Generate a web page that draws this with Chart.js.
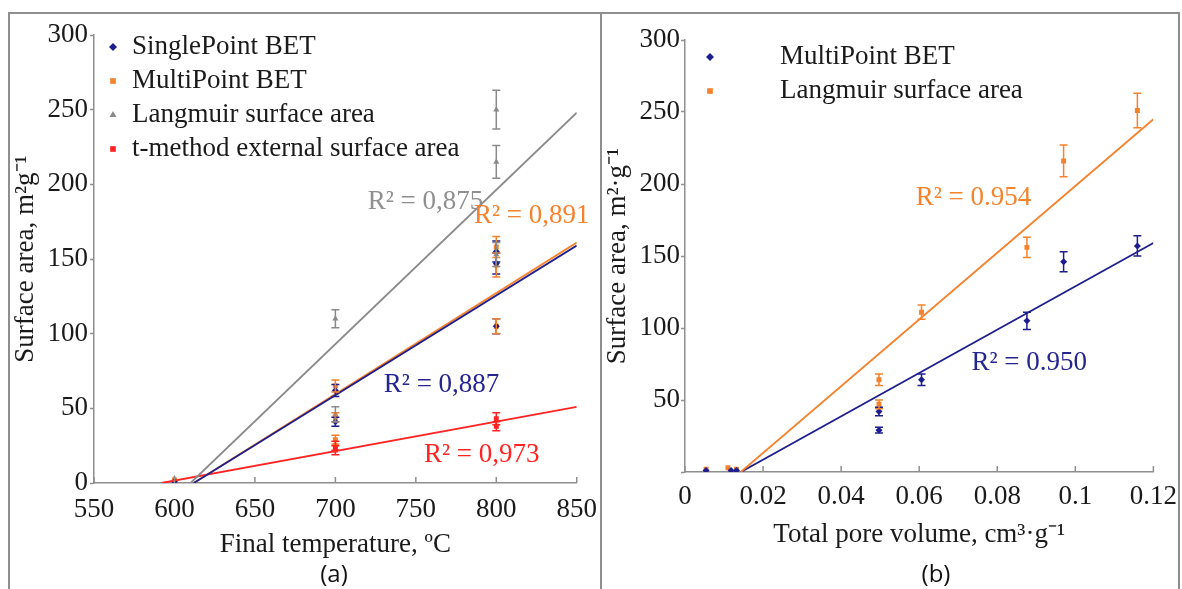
<!DOCTYPE html>
<html>
<head>
<meta charset="utf-8">
<script src="https://cdn.jsdelivr.net/npm/chart.js@4.4.1/dist/chart.umd.min.js"></script>
<style>
  html, body { margin: 0; padding: 0; background: #fff; }
  body { width: 1182px; height: 589px; position: relative; overflow: hidden; }
  .frame { position: absolute; top: 12px; height: 600px; border-top: 2px solid #8e8e8e; border-left: 2px solid #8e8e8e; box-sizing: border-box; }
  #frameA { left: 8px; width: 593px; }
  #frameB { left: 600px; width: 580px; border-right: 2px solid #8e8e8e; }
  canvas { position: absolute; }
  #chartA { left: 10px; top: 14px; }
  #chartB { left: 602px; top: 14px; }
  .tag { position: absolute; top: 556px; font-family: "Open Sans", sans-serif; font-size: 24px; color: #111; transform: translateX(-50%); }
</style>
</head>
<body>
<div class="frame" id="frameA"></div>
<div class="frame" id="frameB"></div>
<canvas id="chartA" width="590" height="575"></canvas>
<canvas id="chartB" width="576" height="575"></canvas>
<div class="tag" style="left:334px">(a)</div>
<div class="tag" style="left:936px">(b)</div>
<script>
// ---- panel (a): surface area vs final temperature ----
const singleTemp = [600, 700, 700, 800, 800, 800];
const singleArea = [1, 62, 41, 155, 147, 105];
const singleErr  = [0, 4, 3, 7, 7, 5];

const multiTemp = [600, 700, 700, 700, 800, 800, 800];
const multiArea = [2, 65, 44, 29, 158, 146, 105];
const multiErr  = [0, 4, 3, 3, 7, 8, 5];

const langTemp = [600, 700, 700, 800, 800, 800];
const langArea = [3, 110, 46, 250, 215, 153];
const langErr  = [0, 6, 5, 13, 11, 8];

const tTemp = [600, 700, 700, 800, 800];
const tArea = [1, 25, 22, 43, 38];
const tErr  = [0, 3, 3, 4, 3];

// fitted lines, ends
const langFitT = [610, 850], langFitA = [0, 248];
const multiFitT = [612, 850], multiFitA = [0, 161];
const singleFitT = [612, 850], singleFitA = [0, 159];
const tFitT = [592, 850], tFitA = [0, 51];

// ---- panel (b): surface area vs total pore volume ----
const bMultiVol  = [0.0054, 0.0118, 0.0132, 0.0497, 0.0497, 0.0606, 0.0876, 0.097, 0.1159];
const bMultiArea = [1, 1, 1, 42, 29, 64, 105, 146, 157];
const bMultiErr  = [0, 0, 0, 3, 2, 4, 6, 7, 7];

const bLangVol  = [0.0054, 0.011, 0.0132, 0.0497, 0.0497, 0.0606, 0.0876, 0.097, 0.1159];
const bLangArea = [2, 3, 2, 64, 47, 111, 156, 216, 251];
const bLangErr  = [0, 0, 0, 4, 3, 5, 7, 11, 12];

const bLangFitV = [0.0143, 0.12], bLangFitA = [0, 245];
const bMultiFitV = [0.0143, 0.12], bMultiFitA = [0, 159];

const NAVY = '#1e1e8e', ORANGE = '#f5822c', GRAY = '#8a8a8a', RED = '#ff2424';
const AXIS = '#8e8e8e', INK = '#1a1a1a';
const SERIF = '"Liberation Serif", "Times New Roman", serif';
const font27 = { family: SERIF, size: 27 };

const pts = (xs, ys) => xs.map((x, i) => ({ x, y: ys[i] }));

function marks(label, xs, ys, errs, color, style, r) {
  return {
    label, data: pts(xs, ys), errs, showLine: false,
    pointStyle: style, pointRadius: r, pointHoverRadius: r,
    backgroundColor: color, borderColor: color, borderWidth: 0, inLegend: true
  };
}
function fit(xs, ys, color) {
  return {
    data: pts(xs, ys), showLine: true, pointRadius: 0, pointHoverRadius: 0,
    borderColor: color, borderWidth: 1.8, fill: false
  };
}

const errorBars = {
  id: 'errorBars',
  afterDatasetsDraw(chart) {
    const { ctx, scales: { x, y } } = chart;
    chart.data.datasets.forEach(ds => {
      if (!ds.errs) return;
      ctx.save();
      ctx.strokeStyle = ds.borderColor;
      ctx.lineWidth = 1.5;
      ds.data.forEach((p, j) => {
        const e = ds.errs[j];
        if (!e) return;
        const px = x.getPixelForValue(p.x);
        const t = y.getPixelForValue(p.y + e), b = y.getPixelForValue(p.y - e);
        ctx.beginPath();
        ctx.moveTo(px, t); ctx.lineTo(px, b);
        ctx.moveTo(px - 4, t); ctx.lineTo(px + 4, t);
        ctx.moveTo(px - 4, b); ctx.lineTo(px + 4, b);
        ctx.stroke();
      });
      ctx.restore();
    });
  }
};

const innerLegend = {
  id: 'innerLegend',
  afterDraw(chart, args, o) {
    const { ctx, chartArea } = chart;
    const items = chart.data.datasets.filter(d => d.inLegend);
    ctx.save();
    ctx.font = `27px ${SERIF}`;
    ctx.textBaseline = 'middle';
    items.forEach((d, i) => {
      const yy = chartArea.top + o.top + i * o.step;
      ctx.fillStyle = d.backgroundColor;
      Chart.helpers.drawPoint(ctx, { pointStyle: d.pointStyle, radius: 4, borderWidth: 0 },
        chartArea.left + o.mark, yy);
      ctx.fillStyle = INK;
      ctx.fillText(d.label, chartArea.left + o.text, yy);
    });
    ctx.restore();
  }
};

const rLabels = {
  id: 'rLabels',
  afterDraw(chart, args, o) {
    const { ctx, scales: { x, y } } = chart;
    ctx.save();
    ctx.font = `27px ${SERIF}`;
    ctx.textAlign = 'center';
    ctx.textBaseline = 'middle';
    o.items.forEach(it => {
      ctx.fillStyle = it.color;
      ctx.fillText(it.text, x.getPixelForValue(it.x), y.getPixelForValue(it.y));
    });
    ctx.restore();
  }
};

// x ticks point into the plot in the original
const innerTicks = {
  id: 'innerTicks',
  afterDraw(chart) {
    const { ctx, scales: { x } } = chart;
    ctx.save();
    ctx.strokeStyle = AXIS;
    ctx.lineWidth = 1.5;
    x.ticks.forEach(t => {
      const px = x.getPixelForValue(t.value);
      ctx.beginPath();
      ctx.moveTo(px, x.top);
      ctx.lineTo(px, x.top - 6);
      ctx.stroke();
    });
    ctx.restore();
  }
};

function axes(o) {
  return {
    x: {
      type: 'linear', min: o.xMin, max: o.xMax,
      ticks: { stepSize: o.xStep, font: font27, color: INK, padding: o.xPad, maxRotation: 0,
        callback: v => String(+v.toFixed(2)) },
      grid: { display: false },
      border: { color: AXIS, width: 1.5 },
      title: { display: true, text: o.xTitle, font: font27, color: INK, padding: { top: 0, bottom: o.xTitlePad } },
      afterFit: s => { s.height = o.xH; }
    },
    y: {
      min: 0, max: 300,
      ticks: { stepSize: 50, font: font27, color: INK, padding: o.yPad,
        callback: v => (v === 0 && o.hideZero) ? '' : String(v) },
      grid: { display: true, drawOnChartArea: false, drawTicks: true, tickLength: 4, tickColor: AXIS, tickWidth: 1.5 },
      border: { color: AXIS, width: 1.5 },
      title: { display: true, text: o.yTitle, font: font27, color: INK, padding: { top: 0, bottom: 0 } },
      afterFit: s => { s.width = o.yW; }
    }
  };
}

const common = {
  responsive: false,
  animation: false,
  events: [],
  plugins: { legend: { display: false }, tooltip: { enabled: false } }
};

new Chart(document.getElementById('chartA'), {
  type: 'scatter',
  data: {
    datasets: [
      fit(langFitT, langFitA, GRAY),
      fit(singleFitT, singleFitA, NAVY),
      fit(multiFitT, multiFitA, ORANGE),
      fit(tFitT, tFitA, RED),
      marks('SinglePoint BET', singleTemp, singleArea, singleErr, NAVY, 'rectRot', 3.5),
      marks('MultiPoint BET', multiTemp, multiArea, multiErr, ORANGE, 'rect', 3.5),
      marks('Langmuir surface area', langTemp, langArea, langErr, GRAY, 'triangle', 3.5),
      marks('t-method external surface area', tTemp, tArea, tErr, RED, 'rect', 3.5)
    ]
  },
  options: {
    ...common,
    layout: { padding: { left: 0, top: 21, right: 20, bottom: 0 } },
    scales: axes({ xMin: 550, xMax: 850, xStep: 50, xPad: 3, xH: 106, xTitlePad: 28,
      xTitle: 'Final temperature, ºC', yTitle: 'Surface area, m²g⁻¹', yW: 84, yPad: 2 }),
    plugins: {
      ...common.plugins,
      innerLegend: { mark: 19, text: 38, top: 12, step: 34 },
      rLabels: { items: [
        { text: 'R² = 0,875', x: 756, y: 188, color: '#8f8f8f' },
        { text: 'R² = 0,891', x: 822, y: 179, color: ORANGE },
        { text: 'R² = 0,887', x: 766, y: 66, color: '#25258f' },
        { text: 'R² = 0,973', x: 791, y: 19, color: RED }
      ] }
    }
  },
  plugins: [errorBars, innerLegend, rLabels, innerTicks]
});

new Chart(document.getElementById('chartB'), {
  type: 'scatter',
  data: {
    datasets: [
      fit(bLangFitV, bLangFitA, ORANGE),
      fit(bMultiFitV, bMultiFitA, NAVY),
      marks('MultiPoint BET', bMultiVol, bMultiArea, bMultiErr, NAVY, 'rectRot', 3.5),
      marks('Langmuir surface area', bLangVol, bLangArea, bLangErr, ORANGE, 'rect', 3.5)
    ]
  },
  options: {
    ...common,
    layout: { padding: { left: 0, top: 26, right: 22, bottom: 0 } },
    scales: axes({ xMin: 0, xMax: 0.12, xStep: 0.02, xPad: 1, xH: 117, xTitlePad: 38,
      xTitle: 'Total pore volume, cm³·g⁻¹', yTitle: 'Surface area, m²·g⁻¹', yW: 83, yPad: 1, hideZero: true }),
    plugins: {
      ...common.plugins,
      innerLegend: { mark: 25, text: 95, top: 17, step: 34 },
      rLabels: { items: [
        { text: 'R² = 0.954', x: 0.0739, y: 190, color: ORANGE },
        { text: 'R² = 0.950', x: 0.0882, y: 76, color: '#25258f' }
      ] }
    }
  },
  plugins: [errorBars, innerLegend, rLabels, innerTicks]
});
</script>
</body>
</html>
